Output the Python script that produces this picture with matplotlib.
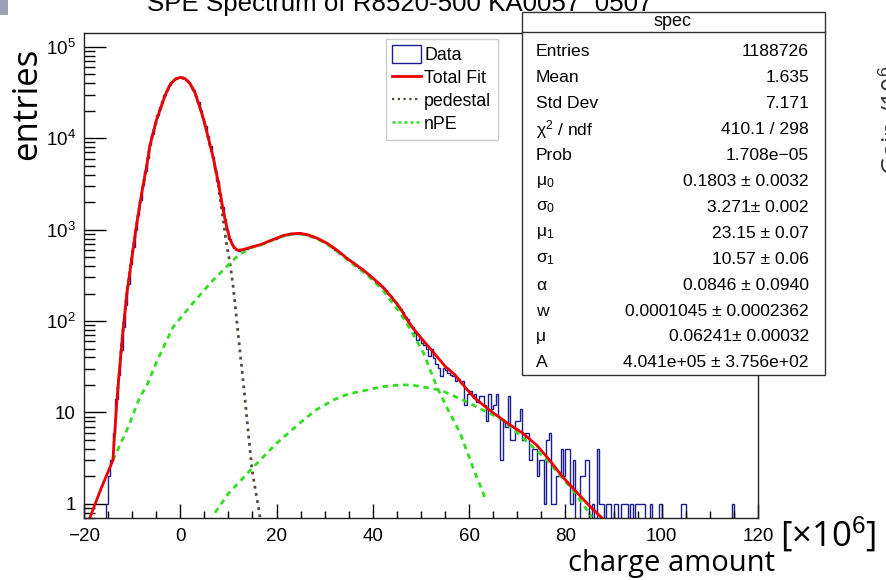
import numpy as np
import matplotlib
matplotlib.use("Agg")
import matplotlib.pyplot as plt
from matplotlib.patches import Patch, Rectangle
from matplotlib.lines import Line2D
from matplotlib.ticker import FixedLocator, MultipleLocator, LogLocator, NullFormatter

plt.rcParams['font.family'] = ['Liberation Sans', 'DejaVu Sans']
plt.rcParams['mathtext.fontset'] = 'custom'
plt.rcParams['mathtext.rm'] = 'Liberation Sans'
plt.rcParams['mathtext.it'] = 'Liberation Sans:italic'

# histogram "spec": 280 bins of 0.5 from -20 to 120
bin_lo, bin_hi, n_bins = -20, 120, 280
counts = [
    0, 0, 0, 0, 0, 0, 0, 0, 0, 1,
    2, 3, 6, 14, 26, 48, 86, 150, 255, 420,
    650, 980, 1450, 2130, 3080, 4380, 6100, 8350, 11100, 14300,
    17900, 21800, 25900, 30100, 34200, 37900, 41200, 43900, 45700, 46500,
    46400, 45400, 43500, 40800, 37400, 33500, 29300, 25000, 20500, 16800,
    13500, 10600, 8200, 6300, 4650, 3380, 2450, 1780, 1300, 1000,
    800, 690, 635, 605, 590, 600, 608, 622, 630, 645,
    655, 668, 685, 695, 712, 730, 745, 762, 785, 800,
    825, 838, 860, 870, 885, 893, 905, 905, 912, 908,
    902, 893, 880, 866, 848, 828, 808, 784, 760, 735,
    708, 682, 654, 625, 598, 575, 548, 522, 500, 478,
    462, 440, 425, 400, 385, 368, 350, 336, 318, 300,
    290, 270, 262, 244, 230, 218, 198, 190, 170, 162,
    148, 135, 126, 112, 105, 92, 87, 74, 62, 66,
    57, 55, 50, 41, 50, 39, 34, 31, 25, 31,
    29, 27, 26, 25, 22, 23, 21, 22, 12, 16,
    17, 15, 16, 13, 15, 15, 12, 8, 16, 11,
    12, 16, 9, 3, 8, 7, 15, 5, 5, 8,
    8, 11, 5, 6, 6, 3, 4, 4, 2, 3,
    3, 1, 5, 6, 1, 1, 2, 2, 4, 2,
    4, 4, 1, 3, 0, 0, 2, 2, 3, 3,
    0, 1, 0, 4, 1, 1, 0, 1, 1, 0,
    1, 1, 0, 1, 1, 1, 0, 1, 0, 1,
    1, 1, 1, 0, 0, 1, 0, 0, 0, 1,
    0, 0, 0, 0, 0, 0, 0, 0, 1, 1,
    0, 0, 0, 0, 0, 0, 0, 0, 0, 0,
    0, 0, 0, 0, 0, 0, 0, 0, 0, 1,
    0, 0, 0, 0, 0, 0, 0, 0, 0, 0,
]

# total fit curve
fit_x = [-18.8, -16.5, -14.0, -13.1, -12.0, -11.1, -10.0, -9.0, -8.0, -7.0, -6.3, -5.0, -4.2,
         -3.0, -2.0, -1.0, 0.0, 1.0, 2.0, 3.0, 4.1, 5.0, 6.0, 6.8, 7.8, 8.9, 9.6, 10.3, 11.0,
         11.6, 12.0, 13.0, 14.5, 16.6, 19.0, 21.3, 23.0, 24.9, 26.5, 28.4, 30.5, 32.6, 35.0,
         38.0, 40.0, 42.1, 44.0, 45.6, 47.0, 48.3, 50.5, 52.5, 55.0, 57.0, 59.5, 61.0, 63.5,
         65.0, 68.0, 71.0, 74.0, 76.5, 79.5, 82.0, 85.0, 87.6]
fit_y = [0.7, 1.45, 3.0, 15, 70, 200, 520, 1200, 2550, 4900, 8400, 15500, 20500,
         31000, 39500, 44500, 46400, 45000, 39800, 32000, 21500, 15000, 9200, 6300, 3500, 1650, 1100, 790, 660,
         608, 596, 605, 640, 685, 770, 860, 900, 912, 880, 810, 710, 595, 470,
         362, 295, 235, 180, 140, 106, 84, 61, 46, 32, 26, 18, 14.6, 11.4,
         9.9, 7.6, 6.0, 4.4, 3.1, 1.95, 1.4, 0.95, 0.7]

# pedestal component
ped_x = [-13.1, -12.0, -11.1, -10.0, -9.0, -8.0, -7.0, -6.3, -5.0, -4.2, -3.0, -2.0, -1.0, 0.0,
         1.0, 2.0, 3.0, 4.1, 5.0, 6.0, 6.8, 7.8, 8.9, 9.6, 10.3, 11.0, 12.0, 13.4, 13.8, 14.9, 16.6]
ped_y = [15, 70, 200, 520, 1200, 2550, 4900, 8400, 15500, 20500, 31000, 39500, 44500, 46400,
         45000, 39800, 32000, 21500, 15000, 9200, 6200, 3350, 1300, 700, 440, 235, 74, 14.7, 8.9, 2.35, 0.7]

# 1 p.e. component
pe1_x = [-14.0, -11.1, -8.4, -6.9, -4.8, -1.5, 2.6, 6.8, 11.0, 12.0, 14.5, 16.6, 19.0, 21.3, 23.0,
         24.9, 26.5, 28.4, 30.5, 32.6, 35.0, 38.0, 40.0, 42.1, 44.0, 45.6, 47.0, 48.3, 50.5, 53.3,
         55.5, 58.1, 60.8, 63.3]
pe1_y = [3.0, 6.4, 14.7, 20, 37, 86, 157, 280, 465, 520, 630, 675, 760, 850, 890,
         900, 865, 795, 695, 580, 455, 345, 280, 218, 160, 125, 95, 73, 45, 19,
         11, 6.0, 2.5, 1.16]

# 2 p.e. component
pe2_x = [7.2, 10.0, 15.1, 20.0, 24.9, 28.0, 31.8, 35.0, 38.8, 41.5, 45.6, 48.0, 50.4, 54.0,
         58.7, 62.9, 67.0, 70.6, 76.2, 81.6, 85.5]
pe2_y = [0.8, 1.3, 2.5, 4.6, 7.7, 10.5, 13.7, 16.0, 17.6, 19, 20, 20, 19, 17.6,
         13.7, 10.6, 8.3, 5.6, 3.0, 1.4, 0.72]

stat_names = ["Entries", "Mean", "Std Dev", "\u03c7$^{2}$ / ndf", "Prob", "\u03bc$_{0}$", "\u03c3$_{0}$",
              "\u03bc$_{1}$", "\u03c3$_{1}$", "\u03b1", "w", "\u03bc", "A"]
stat_vals = ["1188726", "1.635", "7.171", "410.1 / 298", "1.708e\u221205", "0.1803 \u00b1 0.0032",
             "3.271\u00b1 0.002", "23.15 \u00b1 0.07", "10.57 \u00b1 0.06", "0.0846 \u00b1 0.0940",
             "0.0001045 \u00b1 0.0002362", "0.06241\u00b1 0.00032", "4.041e+05 \u00b1 3.756e+02"]

W, H = 887, 580


def fx(px):
    return px / W


def fy(py):
    return 1 - py / H


fig = plt.figure(figsize=(8.87, 5.8), dpi=100)
ax = fig.add_axes([fx(84), fy(518), (758 - 84) / W, (518 - 33) / H])

edges = np.linspace(bin_lo, bin_hi, n_bins + 1)
shown = np.maximum(np.array(counts, dtype=float), 0.01)
ax.stairs(shown, edges, color='#1c1c8e', linewidth=1.0, baseline=0.01)
ax.plot(ped_x, ped_y, color='#5a4838', linestyle=(0, (1.0, 1.6)), linewidth=2.0)
ax.plot(pe1_x, pe1_y, color='#33dd22', linestyle=(0, (2.0, 1.7)), linewidth=2.0)
ax.plot(pe2_x, pe2_y, color='#33dd22', linestyle=(0, (2.0, 1.7)), linewidth=2.0)
ax.plot(fit_x, fit_y, color='#ee0000', linewidth=2.0)

ax.set_yscale('log')
ax.set_xlim(-20, 120)
ax.set_ylim(0.7, 1.42e5)
ax.xaxis.set_major_locator(MultipleLocator(20))
ax.xaxis.set_minor_locator(MultipleLocator(5))
ax.yaxis.set_major_locator(FixedLocator([1, 10, 100, 1e3, 1e4, 1e5]))
ax.yaxis.set_minor_locator(LogLocator(base=10, subs=np.arange(2, 10)))
ax.yaxis.set_minor_formatter(NullFormatter())
ax.set_yticklabels(['1', '10', r'$10^{2}$', r'$10^{3}$', r'$10^{4}$', r'$10^{5}$'])
ax.tick_params(axis='x', which='major', direction='in', length=10, width=1, labelsize=13.5, pad=7)
ax.tick_params(axis='x', which='minor', direction='in', length=5, width=1)
ax.tick_params(axis='y', which='major', direction='in', length=16, width=1, labelsize=13.5, pad=6)
ax.tick_params(axis='y', which='minor', direction='in', length=8, width=1)
for s in ax.spines.values():
    s.set_linewidth(1.0)
    s.set_color('#222222')

# legend
handles = [Patch(facecolor='white', edgecolor='#1c1c8e', linewidth=1.0),
           Line2D([], [], color='#ee0000', linewidth=2.0),
           Line2D([], [], color='#5a4838', linestyle=(0, (1.0, 1.6)), linewidth=1.6),
           Line2D([], [], color='#33dd22', linestyle=(0, (1.2, 1.2)), linewidth=1.8)]
leg = ax.legend(handles, ['Data', 'Total Fit', 'pedestal', 'nPE'], loc='upper left',
                bbox_to_anchor=(fx(386), fy(39)), bbox_transform=fig.transFigure,
                fancybox=False, edgecolor='#cccccc', fontsize=12.8, handlelength=1.6,
                handleheight=1.2, handletextpad=0.2, labelspacing=0.22, borderpad=0.35,
                borderaxespad=0, framealpha=1)
leg.get_frame().set_linewidth(1.0)

# stats box
fig.patches.append(Rectangle((fx(522), fy(375)), (825 - 522) / W, (375 - 12) / H,
                             transform=fig.transFigure, facecolor='white', edgecolor='#333333',
                             linewidth=1.0, zorder=5))
fig.lines.append(Line2D([fx(522), fx(825)], [fy(32), fy(32)], transform=fig.transFigure,
                        color='#333333', linewidth=1.0, zorder=6))
fig.text(fx(673), fy(21), 'spec', ha='center', va='center', fontsize=13, zorder=7)
for i, (nm, vl) in enumerate(zip(stat_names, stat_vals)):
    yy = fy(52 + i * 25.9)
    fig.text(fx(536), yy, nm, ha='left', va='center', fontsize=12.6, zorder=7)
    fig.text(fx(809), yy, vl, ha='right', va='center', fontsize=12.6, zorder=7)

# slide annotations
fig.text(fx(400), fy(11), 'SPE Spectrum of R8520-500 KA0057_0507', ha='center', va='baseline',
         fontsize=18.6)
fig.text(fx(27), fy(104), 'entries', rotation=90, ha='center', va='center',
         fontsize=25, family='Open Sans')
fig.text(fx(672), fy(563), 'charge amount', ha='center', va='center', fontsize=21,
         family='Open Sans')
fig.text(fx(828), fy(535), '[\u00d710$^{6}$]', ha='center', va='center', fontsize=25,
         family='Open Sans')
fig.text(fx(894), fy(120), 'Gain /10$^{6}$', rotation=90, ha='center', va='center',
         fontsize=18, family='Open Sans', color='#333333')
fig.patches.append(Rectangle((0, fy(15)), 8 / W, 15 / H, transform=fig.transFigure,
                             facecolor='#9aa2b4', edgecolor='none'))

fig.savefig('out.png', dpi=100)
